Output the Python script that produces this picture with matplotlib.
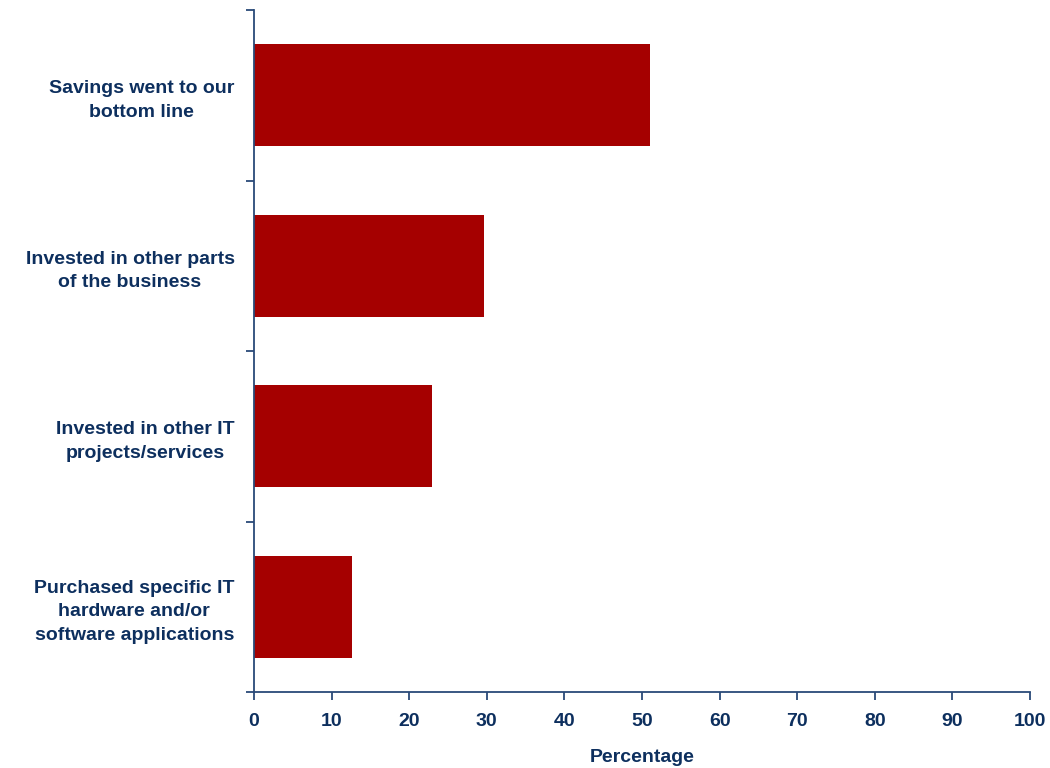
import matplotlib
matplotlib.use("Agg")
import matplotlib.pyplot as plt
import numpy as np

categories = [
    "Savings went to our\nbottom line",
    "Invested in other parts\nof the business",
    "Invested in other IT\nprojects/services",
    "Purchased specific IT\nhardware and/or\nsoftware applications",
]
values = [51.0, 29.6, 22.9, 12.6]
xticks = [0, 10, 20, 30, 40, 50, 60, 70, 80, 90, 100]

plt.rcParams['font.family'] = ['Liberation Sans', 'DejaVu Sans']
text_color = "#0d2f5e"
axis_color = "#2a4a78"
bar_color = "#a50000"

fig = plt.figure(figsize=(10.5, 7.68), dpi=100)
ax = fig.add_axes([254/1050, 1 - 692/768, (1030 - 254)/1050, (692 - 10)/768])

y = np.arange(len(categories))
ax.barh(y, values, height=0.6, color=bar_color, zorder=2)
ax.set_ylim(len(categories) - 0.5, -0.5)
ax.set_xlim(0, 100)

ax.set_xticks(xticks)
ax.set_xticklabels([str(t) for t in xticks], fontsize=14, fontweight='bold', color=text_color)
ax.tick_params(axis='x', direction='out', length=6, width=1.3, color=axis_color, pad=9)

ax.set_yticks(np.arange(-0.5, len(categories), 1.0))
ax.set_yticklabels([])
ax.tick_params(axis='y', which='major', direction='out', length=6, width=1.3, color=axis_color)
ax.set_yticks(y, minor=True)
ax.set_yticklabels(categories, minor=True, fontsize=14, fontweight='bold', color=text_color,
                   multialignment='center', linespacing=1.5)
ax.tick_params(axis='y', which='minor', length=0, pad=14)

ax.set_xlabel("Percentage", fontsize=14, fontweight='bold', color=text_color, labelpad=14)

for s in ['top', 'right']:
    ax.spines[s].set_visible(False)
for s in ['left', 'bottom']:
    ax.spines[s].set_color(axis_color)
    ax.spines[s].set_linewidth(1.3)

fig.savefig("out.png", dpi=100)
